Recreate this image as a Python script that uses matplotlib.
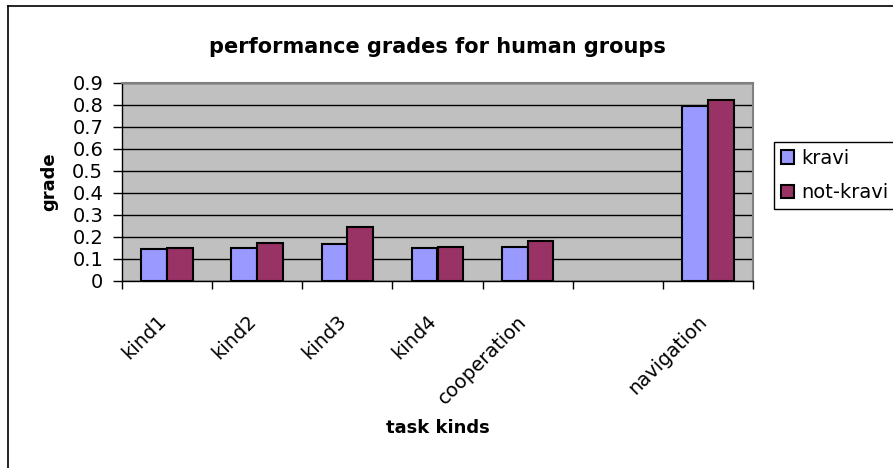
import numpy as np
import matplotlib.pyplot as plt
from matplotlib.lines import Line2D
from matplotlib.patches import Patch
from matplotlib.transforms import ScaledTranslation

plt.rcParams['font.family'] = ['DejaVu Sans']

# chart data
categories = ["kind1", "kind2", "kind3", "kind4", "cooperation", "", "navigation"]
kravi = [0.144, 0.148, 0.169, 0.151, 0.154, np.nan, 0.796]
not_kravi = [0.148, 0.172, 0.244, 0.153, 0.180, np.nan, 0.821]
series_names = ["kravi", "not-kravi"]
y_ticks = [0, 0.1, 0.2, 0.3, 0.4, 0.5, 0.6, 0.7, 0.8, 0.9]

W, H = 893, 468
fig = plt.figure(figsize=(W / 100, H / 100), dpi=100)
ax = fig.add_axes([122 / W, 1 - 281 / H, (753 - 122) / W, (281 - 83) / H])

x = np.arange(len(categories))
bw = 0.2857
ax.bar(x - bw / 2, kravi, bw, color="#9999FF", edgecolor="black", linewidth=1.5, zorder=3)
ax.bar(x + bw / 2, not_kravi, bw, color="#993366", edgecolor="black", linewidth=1.5, zorder=3)

ax.set_facecolor("#C0C0C0")
ax.set_xlim(-0.5, len(categories) - 0.5)
ax.set_ylim(0, 0.9)
ax.set_yticks(y_ticks)
ax.set_yticklabels(["0" if v == 0 else "%.1f" % v for v in y_ticks])
ax.yaxis.grid(True, color="black", linewidth=1.0, zorder=1)
ax.set_axisbelow(True)

# category boundaries get the tick marks, labels sit at the centres
ax.set_xticks(np.arange(-0.5, len(categories), 1.0))
ax.set_xticklabels([])
ax.set_xticks(x, minor=True)
ax.set_xticklabels(categories, minor=True, rotation=45, ha="right", va="center",
                   rotation_mode="anchor", fontsize=14)
ax.tick_params(axis="x", which="minor", length=0, pad=27)
ax.tick_params(axis="x", which="major", length=6, width=1, color="black")
ax.tick_params(axis="y", length=6.5, width=1, color="black", labelsize=14, pad=7)
shift = ScaledTranslation(-4 / 100, 0, fig.dpi_scale_trans)
for lbl in ax.get_xticklabels(minor=True):
    lbl.set_transform(lbl.get_transform() + shift)

for side in ["top", "right"]:
    ax.spines[side].set_color("#808080")
    ax.spines[side].set_linewidth(1.5)
for side in ["left", "bottom"]:
    ax.spines[side].set_color("black")
    ax.spines[side].set_linewidth(1.0)

fig.text(437.5 / W, 1 - 53 / H, "performance grades for human groups",
         ha="center", va="baseline", fontsize=15, fontweight="bold")
fig.text(49 / W, 1 - 182 / H, "grade", ha="center", va="center",
         rotation=90, fontsize=13, fontweight="bold")
fig.text(437.5 / W, 1 - 428 / H, "task kinds", ha="center", va="center",
         fontsize=13, fontweight="bold")

handles = [Patch(facecolor="#9999FF", edgecolor="black", linewidth=1.5),
           Patch(facecolor="#993366", edgecolor="black", linewidth=1.5)]
leg = fig.legend(handles, series_names, loc="upper left",
                 bbox_to_anchor=(774 / W, 1 - 142 / H), fontsize=14,
                 handlelength=0.67, handleheight=0.67, handletextpad=0.4,
                 borderpad=0.35, labelspacing=0.8, borderaxespad=0,
                 fancybox=False, framealpha=1)
leg.get_frame().set_edgecolor("black")
leg.get_frame().set_linewidth(1.0)

# outer chart border (only left and top edges are in frame)
fig.add_artist(Line2D([8 / W, 8 / W], [0, 1 - 6 / H], color="black", linewidth=1.2))
fig.add_artist(Line2D([8 / W, 1], [1 - 6 / H, 1 - 6 / H], color="black", linewidth=1.2))

fig.savefig("out.png", dpi=100)
